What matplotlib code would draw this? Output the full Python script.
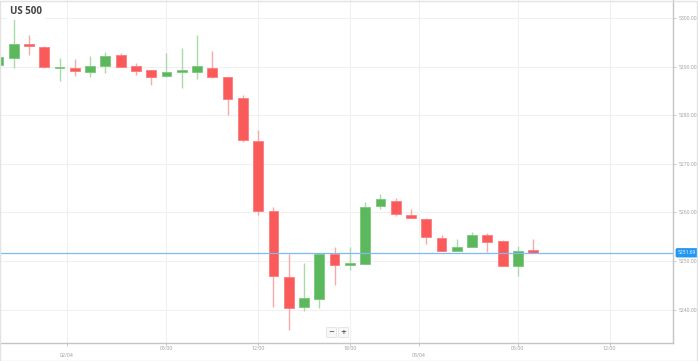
import matplotlib
matplotlib.use("Agg")
import matplotlib.pyplot as plt
from matplotlib.patches import Rectangle
import numpy as np

# ---- data (hourly candles, US 500) ----
opens  = [5290.27, 5291.83, 5294.71, 5294.09, 5289.71, 5289.77, 5288.95, 5290.12, 5292.39, 5290.12,
          5289.36, 5288.00, 5288.95, 5288.95, 5289.77, 5287.80, 5283.64, 5274.75, 5260.25, 5246.71,
          5240.47, 5242.18, 5251.44, 5249.24, 5249.44, 5261.28, 5262.30, 5259.51, 5258.74, 5254.79,
          5252.12, 5252.98, 5255.29, 5254.05, 5248.87, 5252.20]
highs  = [5291.91, 5299.94, 5296.50, 5294.20, 5291.71, 5291.50, 5292.18, 5293.07, 5292.74, 5290.80,
          5289.40, 5292.74, 5293.77, 5296.40, 5293.21, 5287.90, 5284.09, 5276.91, 5261.17, 5251.50,
          5249.59, 5251.50, 5252.94, 5252.94, 5262.08, 5263.72, 5262.90, 5260.66, 5258.80, 5255.35,
          5254.47, 5255.93, 5255.70, 5254.32, 5253.09, 5254.49]
lows   = [5290.27, 5289.71, 5292.33, 5289.80, 5287.04, 5288.00, 5287.80, 5288.74, 5289.85, 5288.21,
          5286.28, 5287.92, 5285.60, 5287.45, 5287.59, 5279.98, 5274.42, 5259.42, 5240.47, 5235.80,
          5239.71, 5240.39, 5245.12, 5248.15, 5249.30, 5260.70, 5259.26, 5258.80, 5253.44, 5252.05,
          5252.05, 5252.90, 5251.91, 5248.90, 5246.91, 5251.60]
closes = [5291.91, 5294.71, 5294.24, 5289.92, 5289.98, 5289.16, 5290.06, 5292.24, 5289.92, 5289.16,
          5287.86, 5288.89, 5289.30, 5290.02, 5287.80, 5283.40, 5274.84, 5260.39, 5246.98, 5240.27,
          5242.33, 5251.44, 5249.12, 5249.59, 5261.17, 5262.76, 5259.61, 5258.85, 5254.90, 5252.12,
          5252.88, 5255.35, 5253.85, 5248.97, 5252.16, 5251.69]

time_tick_labels = ["02/04", "06:00", "12:00", "18:00", "03/04", "06:00", "12:00"]
time_tick_index  = [4.5, 11, 17, 23, 27.5, 34, 40]
price_ticks = [5240, 5250, 5260, 5270, 5280, 5290, 5300]
last_price = closes[-1]

# ---- style ----
GREEN, GREEN_W, GREEN_E = "#5cb85c", "#a9dba9", "#7cc77c"
RED, RED_W, RED_E = "#fa5a5a", "#f8a9a9", "#fb7c7c"
FONT = "Open Sans"

fig = plt.figure(figsize=(6.98, 3.61), dpi=100)
ax = fig.add_axes([0.0, 18 / 361, 673 / 698, 343 / 361])

x = np.arange(len(opens))
o = np.array(opens); c = np.array(closes); h = np.array(highs); l = np.array(lows)
up = c >= o

ax.vlines(x[up], l[up], h[up], color=GREEN_W, linewidth=1.0, zorder=2)
ax.vlines(x[~up], l[~up], h[~up], color=RED_W, linewidth=1.0, zorder=2)
bottoms = np.minimum(o, c)
heights = np.maximum(np.abs(c - o), 0.3)
ax.bar(x[up], heights[up], bottom=bottoms[up], width=0.64, color=GREEN,
       edgecolor=GREEN_E, linewidth=0.6, zorder=3)
ax.bar(x[~up], heights[~up], bottom=bottoms[~up], width=0.64, color=RED,
       edgecolor=RED_E, linewidth=0.6, zorder=3)

ax.set_xlim(1.6 / 15.28, 674.6 / 15.28)
ax.set_ylim(5233.13, 5303.70)

# grid
for p in price_ticks:
    ax.axhline(p, color="#f0f0f0", linewidth=0.8, zorder=0)
for t in time_tick_index:
    ax.axvline(t, color="#f0f0f0", linewidth=0.8, zorder=0)

# current price line
ax.axhline(last_price, color="#7cbcf0", linewidth=0.9, zorder=4)

# spines
for s in ["top", "left"]:
    ax.spines[s].set_visible(False)
for s in ["right", "bottom"]:
    ax.spines[s].set_color("#c4c4c4")
    ax.spines[s].set_linewidth(1.0)

ax.yaxis.tick_right()
ax.set_yticks(price_ticks)
ax.set_yticklabels([f"{p:.2f}" for p in price_ticks], fontsize=3.6, color="#9a9a9a", family=FONT)
ax.tick_params(axis="y", length=2.5, width=0.6, color="#c4c4c4", pad=1.5)

ax.set_xticks(time_tick_index)
ax.set_xticklabels([])
ax.tick_params(axis="x", length=2.5, width=0.6, color="#c4c4c4")
for t, lab in zip(time_tick_index, time_tick_labels):
    is_date = "/" in lab
    ax.annotate(lab, xy=(t, 0), xycoords=("data", "axes fraction"),
                xytext=(0, -8.8 if is_date else -3.8), textcoords="offset points",
                ha="center", va="center", fontsize=3.8, color="#9a9a9a", family=FONT,
                annotation_clip=False)

# last price label
ax.annotate(f"{last_price:.2f}", xy=(1, last_price), xycoords=("axes fraction", "data"),
            xytext=(10, 0), textcoords="offset points", ha="center", va="center",
            fontsize=3.5, color="white", family=FONT,
            bbox=dict(boxstyle="round,pad=0.3,rounding_size=0.2", fc="#2196f3", ec="#2196f3"),
            annotation_clip=False, zorder=6)

# title
fig.text(10 / 698, 1 - 12 / 361, "US 500", fontsize=7, fontweight="bold",
         color="#444444", family=FONT, ha="left", va="center",
         bbox=dict(boxstyle="square,pad=0.3", fc="white", ec="none"))

# zoom buttons
for px, sym in [(331, "\u2212"), (343, "+")]:
    fig.text(px / 698, 1 - 332 / 361, sym, fontsize=5, color="#555555", ha="center", va="center",
             fontweight="bold",
             bbox=dict(boxstyle="square,pad=0.25", fc="#f7f7f7", ec="#e0e0e0", lw=0.5))

# figure border
fig.patches.append(Rectangle((0.0005, 0.001), 0.998, 0.997, transform=fig.transFigure,
                             fill=False, edgecolor="#e2e2e2", linewidth=1.0))

fig.savefig("out.png", dpi=100, facecolor="white")
